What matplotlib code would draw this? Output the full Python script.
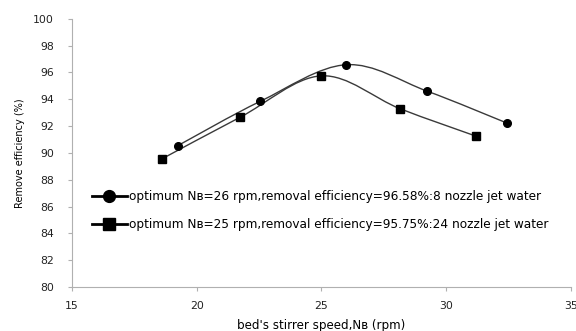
import numpy as np
import matplotlib
matplotlib.use("Agg")
import matplotlib.pyplot as plt
from matplotlib.path import Path
from matplotlib.patches import PathPatch
from matplotlib.lines import Line2D

plt.rcParams['font.family'] = ['DejaVu Sans']

speed_8 = [19.25, 22.55, 26.0, 29.25, 32.45]
eff_8 = [90.55, 93.85, 96.58, 94.6, 92.22]
speed_24 = [18.6, 21.75, 25.0, 28.15, 31.2]
eff_24 = [89.55, 92.67, 95.75, 93.3, 91.25]

labels = ["optimum Nʙ=26 rpm,removal efficiency=96.58%:8 nozzle jet water",
          "optimum Nʙ=25 rpm,removal efficiency=95.75%:24 nozzle jet water"]

fig = plt.figure(figsize=(5.76, 3.31), dpi=100)
ax = fig.add_axes([0.125, 0.133, 0.866, 0.81])

def smooth_path(x, y):
    # Excel-style smoothed line: cubic Bezier segments (Catmull-Rom tangents)
    x = np.asarray(x, float); y = np.asarray(y, float)
    n = len(x)
    verts = [(x[0], y[0])]
    codes = [Path.MOVETO]
    for i in range(n - 1):
        x0, y0 = (x[i-1], y[i-1]) if i > 0 else (x[i], y[i])
        x3, y3 = (x[i+2], y[i+2]) if i + 2 < n else (x[i+1], y[i+1])
        c1 = (x[i] + (x[i+1] - x0) / 6, y[i] + (y[i+1] - y0) / 6)
        c2 = (x[i+1] - (x3 - x[i]) / 6, y[i+1] - (y3 - y[i]) / 6)
        verts += [c1, c2, (x[i+1], y[i+1])]
        codes += [Path.CURVE4] * 3
    return Path(verts, codes)

line_col = '#3a3a3a'
for xs, ys, mk, ms in [(speed_8, eff_8, 'o', 5.5), (speed_24, eff_24, 's', 5.5)]:
    ax.add_patch(PathPatch(smooth_path(xs, ys), facecolor='none', edgecolor=line_col, lw=1.0, zorder=2))
    ax.plot(xs, ys, linestyle='none', marker=mk, ms=ms, color='black', zorder=3)

ax.set_xlim(15, 35)
ax.set_ylim(80, 100)
ax.set_xticks(range(15, 36, 5))
ax.set_yticks(range(80, 101, 2))
for s in ['top', 'right']:
    ax.spines[s].set_visible(False)
for s in ['left', 'bottom']:
    ax.spines[s].set_color('#b0b0b0')
    ax.spines[s].set_linewidth(0.8)
ax.tick_params(axis='both', colors='#b0b0b0', labelcolor='#222222', labelsize=7.8, length=3, width=0.8)
ax.tick_params(axis='x', pad=7)
ax.tick_params(axis='y', pad=10)
ax.set_xlabel("bed's stirrer speed,Nʙ (rpm)", fontsize=8.6, labelpad=6)
ax.set_ylabel("Remove efficiency (%)", fontsize=7, labelpad=6)

handles = [Line2D([], [], color='black', lw=2, marker='o', ms=8.5),
           Line2D([], [], color='black', lw=2, marker='s', ms=8.5)]
ax.legend(handles, labels, loc='upper left', bbox_to_anchor=(0.03, 0.38), frameon=False,
          fontsize=8.7, handlelength=2.9, handletextpad=0.2, labelspacing=1.25, borderaxespad=0)

fig.savefig("out.png", dpi=100)
